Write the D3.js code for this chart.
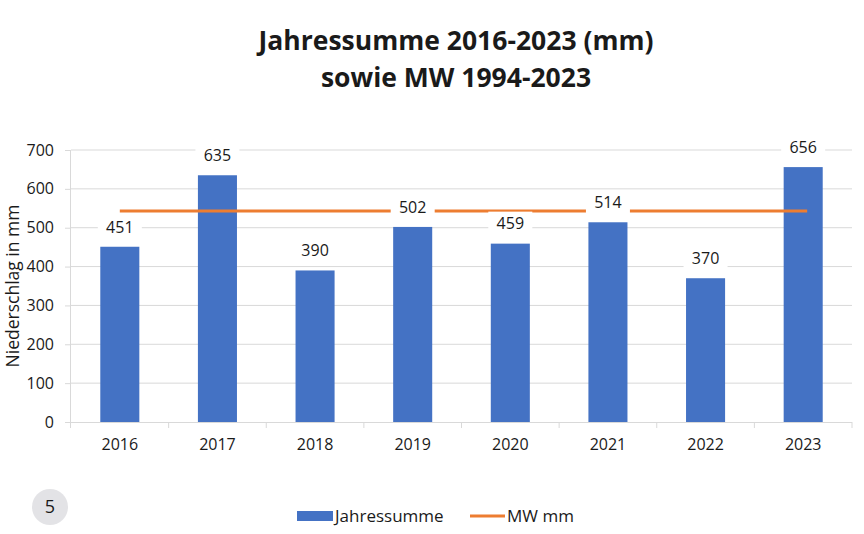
<!DOCTYPE html>
<html>
<head>
<meta charset="utf-8">
<script src="https://cdn.jsdelivr.net/npm/d3@7"></script>
<style>
	body { margin: 0; background: #fff; }
	text { font-family: 'Open Sans', sans-serif; }
</style>
</head>
<body>
<div id="canvas"></div>
<script>
// Data
const years = ['2016', '2017', '2018', '2019', '2020', '2021', '2022', '2023']
const jahressumme = [451, 635, 390, 502, 459, 514, 370, 656]
const mwMm = [543, 543, 543, 543, 543, 543, 543, 543]
const yTicks = [0, 100, 200, 300, 400, 500, 600, 700]
const titleLines = ['Jahressumme 2016-2023 (mm)', 'sowie MW 1994-2023']

const colors = {
	bar: '#4472c4',
	line: '#ed7d31',
	grid: '#d9d9d9',
	text: '#1a1a1a',
}
const width = 864, height = 534
const margin = {left: 71, right: 12, top: 150, bottom: 112}

const svg = d3.select('#canvas').append('svg').attr('width', width).attr('height', height)

const x = d3.scaleBand().domain(years).range([margin.left, width - margin.right]).paddingInner(0.6).paddingOuter(0.3)
const xOuter = d3.scaleBand().domain(years).range([margin.left, width - margin.right])
const y = d3.scaleLinear().domain([0, 700]).range([height - margin.bottom, margin.top])

// Title
svg.selectAll('.title').data(titleLines).enter().append('text')
	.attr('x', 456).attr('y', (d, i) => 50 + i * 37)
	.attr('text-anchor', 'middle')
	.attr('font-size', 26.5).attr('font-weight', 'bold').attr('fill', colors.text)
	.text(d => d)

// Gridlines
svg.selectAll('.grid').data(yTicks.filter(d => d > 0)).enter().append('line')
	.attr('x1', margin.left).attr('x2', width - margin.right)
	.attr('y1', d => y(d)).attr('y2', d => y(d))
	.attr('stroke', colors.grid).attr('stroke-width', 1)

// Y axis
const yAxis = svg.append('g').attr('transform', `translate(${margin.left},0)`)
	.call(d3.axisLeft(y).tickValues(yTicks).tickSize(6).tickPadding(11))
yAxis.select('.domain').attr('stroke', colors.grid).attr('d', `M-0.5,${y(700)}V${y(0) + 6}`)
yAxis.selectAll('.tick line').attr('stroke', colors.grid)
yAxis.selectAll('.tick text').attr('font-size', 16).attr('fill', colors.text).style('font-family', 'Open Sans')

// X axis
const xAxis = svg.append('g').attr('transform', `translate(0,${y(0)})`)
	.call(d3.axisBottom(x).tickSize(0).tickPadding(17))
xAxis.select('.domain').attr('stroke', colors.grid).attr('d', `M${margin.left},0.5H${width - margin.right}`)
xAxis.selectAll('.tick text').attr('font-size', 16).attr('fill', colors.text).style('font-family', 'Open Sans')
svg.selectAll('.xtick').data(years).enter().append('line')
	.attr('x1', (d, i) => margin.left + (i + 1) * xOuter.step())
	.attr('x2', (d, i) => margin.left + (i + 1) * xOuter.step())
	.attr('y1', y(0)).attr('y2', y(0) + 6)
	.attr('stroke', colors.grid)

// Bars
svg.selectAll('.bar').data(jahressumme).enter().append('rect')
	.attr('x', (d, i) => x(years[i]))
	.attr('width', x.bandwidth())
	.attr('y', d => y(d))
	.attr('height', d => y(0) - y(d))
	.attr('fill', colors.bar)

// MW line
const mwLine = d3.line()
	.x((d, i) => x(years[i]) + x.bandwidth() / 2 + (i === mwMm.length - 1 ? 4 : 0))
	.y(d => y(d))
svg.append('path')
	.attr('d', mwLine(mwMm))
	.attr('fill', 'none').attr('stroke', colors.line).attr('stroke-width', 3)

// Data labels
const labels = svg.selectAll('.label').data(jahressumme).enter().append('g')
	.attr('transform', (d, i) => `translate(${x(years[i]) + x.bandwidth() / 2},${y(d) - 20})`)
labels.append('rect')
	.attr('x', -22).attr('y', -12).attr('width', 44).attr('height', 24)
	.attr('fill', '#fff')
labels.append('text')
	.attr('text-anchor', 'middle').attr('dy', '0.36em')
	.attr('font-size', 16).attr('fill', colors.text)
	.text(d => d)

// Y axis title
svg.append('text')
	.attr('transform', `translate(13,${(y(0) + y(700)) / 2}) rotate(-90)`)
	.attr('text-anchor', 'middle').attr('dy', '0.35em')
	.attr('font-size', 17.5).attr('fill', colors.text)
	.text('Niederschlag in mm')

// Legend
const legend = svg.append('g').attr('transform', 'translate(297,516)')
legend.append('rect').attr('x', 0).attr('y', -5).attr('width', 36).attr('height', 10).attr('fill', colors.bar)
legend.append('text').attr('x', 38).attr('dy', '0.35em').attr('font-size', 17).attr('fill', colors.text).text('Jahressumme')
legend.append('line').attr('x1', 173).attr('x2', 208).attr('stroke', colors.line).attr('stroke-width', 3)
legend.append('text').attr('x', 210).attr('dy', '0.35em').attr('font-size', 17).attr('fill', colors.text).text('MW mm')

// Page number badge
svg.append('circle').attr('cx', 50).attr('cy', 507).attr('r', 18).attr('fill', '#e3e3e6')
svg.append('text').attr('x', 50).attr('y', 507).attr('dy', '0.36em').attr('text-anchor', 'middle')
	.attr('font-size', 18).attr('fill', colors.text).text('5')
</script>
</body>
</html>
